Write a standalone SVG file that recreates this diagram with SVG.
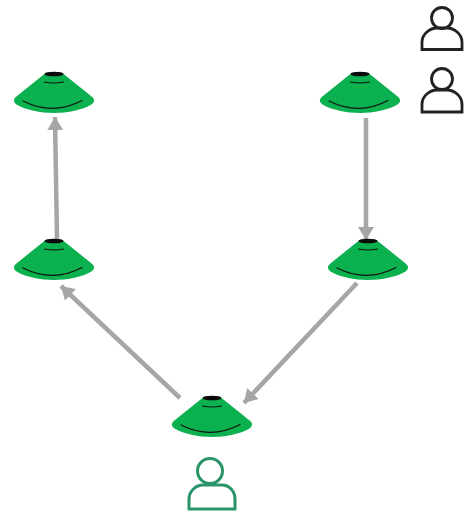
<svg xmlns="http://www.w3.org/2000/svg" width="465" height="513" viewBox="0 0 465 513">
<style>
.b{fill:#0bb14f}.t{fill:#0a0a0a}.l{fill:none;stroke:#111;stroke-width:1.2;stroke-linecap:round}
.c{fill:none;stroke:#a6a6a6;stroke-width:4.500;marker-end:url(#a)}
.p{fill:none;stroke:#222;stroke-width:2.800}.g{fill:none;stroke:#2a9468;stroke-width:3}
</style>
<defs>
<marker id="a" markerUnits="userSpaceOnUse" markerWidth="14" markerHeight="16" refX="13" refY="8" orient="auto"><path d="M0 0L13 8L0 16Z" fill="#a6a6a6"/></marker>
<g id="cone">
<path class="b" d="M-9 -26.500C-6 -27.500 6 -27.500 9 -26.500L37 -4C41 -1 41 2 37.500 4.500C28 10 14 13 0 13C-14 13 -28 10 -37.500 4.500C-41 2 -41 -1 -37 -4Z"/>
<ellipse class="t" cx="0" cy="-26" rx="9.500" ry="2.300"/>
<path class="l" d="M-9.500 -18Q0 -16 9.500 -18"/>
<path class="l" d="M-31 1Q-1 16 28 0.500"/>
</g>
</defs>
<g id="connectors">
<path class="c" d="M57 239L55 117"/>
<path class="c" d="M180 398L61 286"/>
<path class="c" d="M357 283L244 403"/>
<path class="c" d="M366 118V240"/>
</g>
<g id="cone-top-left"><use href="#cone" x="54" y="100"/></g>
<g id="cone-top-right"><use href="#cone" x="360" y="100"/></g>
<g id="cone-mid-left"><use href="#cone" x="54" y="267"/></g>
<g id="cone-mid-right"><use href="#cone" x="368" y="267"/></g>
<g id="cone-bottom"><use href="#cone" x="212" y="424"/></g>
<g id="person-top-1" class="p"><circle cx="442" cy="18" r="10.500"/><path d="M422 49.500V42C422 34 430 28 437 28H447C454 28 462 34 462 42V49.500Z"/></g>
<g id="person-top-2" class="p"><circle cx="442" cy="79" r="10.500"/><path d="M422 112V104C422 96 430 90 437 90H447C454 90 462 96 462 104V112Z"/></g>
<g id="person-bottom" class="g"><circle cx="210" cy="471" r="12.500"/><path d="M189 509V499C189 491 196 485 203 485H222C229 485 235 491 235 499V509Z"/></g>
</svg>
